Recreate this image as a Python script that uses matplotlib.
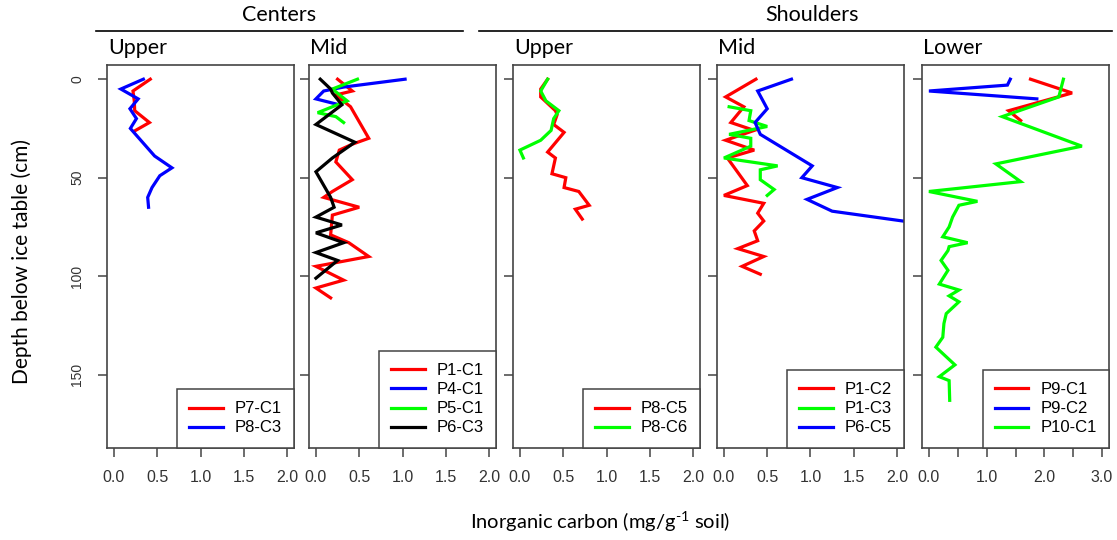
import matplotlib.pyplot as plt
import numpy as np

# Centers - Upper
p7c1_d = [0, 6, 11, 16, 22, 26]
p7c1_x = [0.42, 0.22, 0.235, 0.24, 0.41, 0.25]
p8c3_d = [0, 5, 10, 15, 20, 25, 39, 45, 49, 55, 60, 65]
p8c3_x = [0.34, 0.08, 0.28, 0.185, 0.26, 0.19, 0.47, 0.67, 0.53, 0.44, 0.39, 0.40]

# Centers - Mid
p1c1_d = [0, 6, 8, 14, 30, 33, 36, 42, 51, 57, 60, 65, 69, 79, 83, 90, 95, 102, 106, 111]
p1c1_x = [0.25, 0.42, 0.23, 0.40, 0.61, 0.42, 0.27, 0.23, 0.42, 0.19, 0.09, 0.50, 0.19, 0.17, 0.38, 0.61, 0.0, 0.32, 0.0, 0.17]
p4c1_d = [0, 4, 6, 10, 13]
p4c1_x = [1.03, 0.32, 0.09, 0.0, 0.27]
p5c1_d = [0, 5, 11, 17, 19, 22]
p5c1_x = [0.48, 0.19, 0.36, 0.02, 0.23, 0.32]
p6c3_d = [0, 5, 7, 13, 23, 32, 40, 47, 60, 65, 70, 74, 78, 83, 88, 92, 101]
p6c3_x = [0.05, 0.17, 0.19, 0.30, 0.0, 0.45, 0.19, 0.0, 0.17, 0.21, 0.0, 0.30, 0.0, 0.32, 0.0, 0.25, 0.0]

# Shoulders - Upper
p8c5_d = [0, 5, 9, 16, 18, 23, 27, 37, 40, 48, 50, 55, 57, 64, 66, 71]
p8c5_x = [0.32, 0.24, 0.24, 0.41, 0.43, 0.39, 0.51, 0.32, 0.41, 0.37, 0.53, 0.51, 0.68, 0.80, 0.64, 0.72]
p8c6_d = [0, 6, 11, 16, 20, 26, 31, 36, 40]
p8c6_x = [0.32, 0.24, 0.30, 0.45, 0.39, 0.36, 0.24, 0.0, 0.04]

# Shoulders - Mid
p1c2_d = [0, 9, 14, 22, 26, 31, 36, 40, 54, 59, 63, 68, 72, 77, 82, 86, 90, 95, 99]
p1c2_x = [0.37, 0.02, 0.23, 0.08, 0.35, 0.02, 0.35, 0.04, 0.27, 0.0, 0.46, 0.39, 0.46, 0.35, 0.39, 0.16, 0.46, 0.21, 0.42]
p1c3_d = [14, 16, 21, 24, 28, 30, 34, 40, 44, 46, 51, 56, 59]
p1c3_x = [0.06, 0.31, 0.29, 0.50, 0.06, 0.31, 0.31, 0.0, 0.62, 0.42, 0.42, 0.58, 0.50]
p6c5_d = [0, 6, 15, 22, 28, 44, 50, 55, 61, 67, 72.5]
p6c5_x = [0.78, 0.39, 0.50, 0.36, 0.42, 1.02, 0.90, 1.31, 0.96, 1.25, 2.15]

# Shoulders - Lower
p9c1_d = [0, 7, 16, 21]
p9c1_x = [1.76, 2.48, 1.38, 1.59]
p9c2_d = [0, 3, 6, 10]
p9c2_x = [1.41, 1.36, 0.0, 1.87]
p10c1_d = [0, 9, 19, 34, 43, 52, 57, 62, 64, 70, 75, 80, 83, 85, 87, 92, 97, 104, 107, 110,
           113, 119, 124, 131, 136, 145, 151, 153, 163]
p10c1_x = [2.33, 2.25, 1.27, 2.65, 1.16, 1.59, 0.0, 0.84, 0.52, 0.41, 0.35, 0.24, 0.67, 0.35, 0.33, 0.21, 0.33, 0.18, 0.52, 0.35,
           0.52, 0.30, 0.26, 0.24, 0.12, 0.45, 0.18, 0.35, 0.36]

RED, BLUE, GREEN, BLACK = '#ff0000', '#0000ff', '#00ff00', '#000000'

panels = [
    ('Upper', 2, [(p7c1_x, p7c1_d, RED, 'P7-C1'), (p8c3_x, p8c3_d, BLUE, 'P8-C3')]),
    ('Mid', 2, [(p1c1_x, p1c1_d, RED, 'P1-C1'), (p4c1_x, p4c1_d, BLUE, 'P4-C1'),
                (p5c1_x, p5c1_d, GREEN, 'P5-C1'), (p6c3_x, p6c3_d, BLACK, 'P6-C3')]),
    ('Upper', 2, [(p8c5_x, p8c5_d, RED, 'P8-C5'), (p8c6_x, p8c6_d, GREEN, 'P8-C6')]),
    ('Mid', 2, [(p1c2_x, p1c2_d, RED, 'P1-C2'), (p1c3_x, p1c3_d, GREEN, 'P1-C3'),
                (p6c5_x, p6c5_d, BLUE, 'P6-C5')]),
    ('Lower', 3, [(p9c1_x, p9c1_d, RED, 'P9-C1'), (p9c2_x, p9c2_d, BLUE, 'P9-C2'),
                  (p10c1_x, p10c1_d, GREEN, 'P10-C1')]),
]

W, H = 1117, 540
lefts = [107, 309, 513, 717, 922]
pw = 187
top, bottom = 65, 448
FRAME = '#444444'
TXT = 'Lato'

plt.rcParams['mathtext.fontset'] = 'custom'
plt.rcParams['mathtext.rm'] = TXT

fig = plt.figure(figsize=(W / 100, H / 100), dpi=100)

for i, (title, xmax, series) in enumerate(panels):
    ax = fig.add_axes([lefts[i] / W, 1 - bottom / H, pw / W, (bottom - top) / H])
    for x, d, c, lab in series:
        ax.plot(x, d, color=c, lw=2.3, label=lab, solid_joinstyle='miter')
    pad = 0.04 * xmax
    ax.set_xlim(-pad, xmax + pad)
    ax.set_ylim(180 + 7.2, -7.2)
    ax.set_yticks([0, 50, 100, 150])
    xt = np.arange(0, xmax + 0.01, 0.5)
    ax.set_xticks(xt)
    if xmax == 3:
        ax.set_xticklabels(['%.1f' % v if v == int(v) else '' for v in xt])
    else:
        ax.set_xticklabels(['%.1f' % v for v in xt])
    for s in ax.spines.values():
        s.set_color(FRAME)
        s.set_linewidth(1.2)
    ax.tick_params(axis='both', direction='out', color=FRAME, length=6.5, width=1.1,
                   labelcolor='#333333')
    ax.tick_params(axis='x', pad=9, labelsize=11.5, labelfontfamily='Liberation Sans')
    if i == 0:
        ax.tick_params(axis='y', pad=10, labelsize=10, labelfontfamily='Liberation Sans')
        for t in ax.get_yticklabels():
            t.set_rotation(90)
            t.set_va('center')
    else:
        ax.tick_params(axis='y', labelleft=False)
    leg = ax.legend(loc='lower right', bbox_to_anchor=(1, 0), borderaxespad=0,
                    fancybox=False, framealpha=1, edgecolor=FRAME,
                    prop={'family': 'Liberation Sans', 'size': 12},
                    handlelength=2.0, handletextpad=0.7, borderpad=0.75, labelspacing=0.25)
    leg.get_frame().set_linewidth(1.1)
    fig.text((lefts[i] + 1) / W, 1 - 48 / H, title, family=TXT, fontsize=15.5,
             ha='left', va='center')

# group headers
fig.text(279 / W, 1 - 15 / H, 'Centers', family=TXT, fontsize=15.5, ha='center', va='center')
fig.text(812 / W, 1 - 15 / H, 'Shoulders', family=TXT, fontsize=15.5, ha='center', va='center')
fig.add_artist(plt.Line2D([96 / W, 463 / W], [1 - 31 / H, 1 - 31 / H], color='black', lw=1.2))
fig.add_artist(plt.Line2D([479 / W, 1112 / W], [1 - 31 / H, 1 - 31 / H], color='black', lw=1.2))

fig.text(22 / W, 1 - 262 / H, 'Depth below ice table (cm)', family=TXT, fontsize=15,
         rotation=90, ha='center', va='center')
fig.text(600 / W, 1 - 522 / H, r'Inorganic carbon (mg/g$^{\text{-1}}$ soil)', family=TXT,
         fontsize=14.5, ha='center', va='center')

fig.savefig('out.png', dpi=100)
